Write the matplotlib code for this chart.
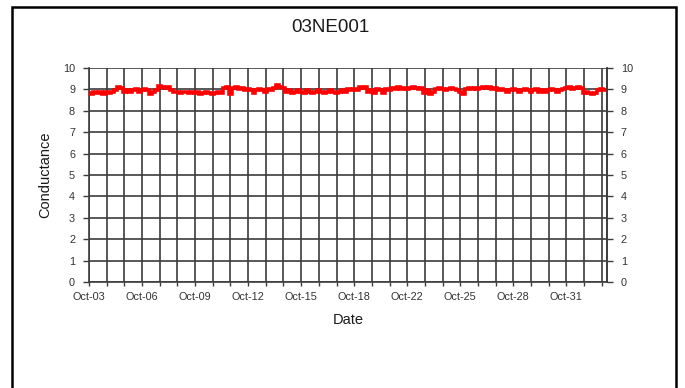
import numpy as np
import matplotlib
matplotlib.use('Agg')
import matplotlib.pyplot as plt
from matplotlib.patches import Rectangle

plt.rcParams['font.family'] = ['Liberation Sans', 'DejaVu Sans']

###############################################################################
# Data

title = '03NE001'
date_labels = ['Oct-03', 'Oct-06', 'Oct-09', 'Oct-12', 'Oct-15',
               'Oct-18', 'Oct-22', 'Oct-25', 'Oct-28', 'Oct-31']
label_every = 3          # one date label every third category
n_categories = 29.3      # category width of the plot area
points_per_category = 6

conductance = [
    8.85, 8.8, 8.9, 8.85, 8.9, 8.8,
    8.9, 8.85, 8.9, 8.95, 9.1, 9.05,
    8.9, 8.95, 8.9, 8.95, 9.0, 8.9,
    8.95, 9.0, 8.95, 8.8, 8.9, 8.95,
    9.15, 9.1, 9.05, 9.1, 8.95, 8.9,
    8.9, 8.85, 8.9, 8.9, 8.85, 8.9,
    8.85, 8.9, 8.8, 8.85, 8.9, 8.85,
    8.8, 8.85, 8.9, 8.85, 9.05, 9.1,
    8.8, 9.05, 9.1, 9.0, 9.05, 8.95,
    9.0, 8.95, 8.85, 8.95, 9.0, 8.95,
    8.9, 9.0, 8.95, 9.05, 9.2, 9.1,
    9.05, 8.9, 8.95, 8.85, 8.9, 8.95,
    8.9, 8.85, 8.95, 8.9, 8.85, 8.9,
    8.95, 8.9, 8.85, 8.9, 8.95, 8.9,
    8.85, 8.9, 8.95, 8.9, 9.0, 8.95,
    9.0, 8.95, 9.1, 9.05, 9.1, 8.9,
    8.95, 8.85, 9.0, 8.95, 8.85, 9.0,
    8.95, 9.05, 9.0, 9.1, 9.0, 9.05,
    9.0, 9.05, 9.1, 9.05, 9.0, 9.05,
    8.85, 8.95, 8.8, 8.9, 9.0, 9.05,
    9.0, 8.95, 9.0, 9.05, 9.0, 8.95,
    8.9, 8.8, 9.0, 9.05, 9.0, 9.05,
    9.0, 9.05, 9.1, 9.05, 9.1, 9.0,
    9.05, 8.95, 9.0, 8.95, 8.9, 8.95,
    9.0, 8.95, 8.9, 8.95, 9.0, 8.95,
    8.9, 8.95, 9.0, 8.9, 8.95, 8.9,
    8.95, 9.0, 8.95, 8.9, 8.95, 9.0,
    9.05, 9.1, 9.0, 9.05, 9.1, 9.05,
    8.85, 8.9, 8.85, 8.8, 8.85, 8.95,
    9.0, 8.95,
]

###############################################################################
# Plot

grid_col = '#3c3c3c'
text_col = '#333333'

fig = plt.figure(figsize=(6.85, 3.88), dpi=100)
ax = fig.add_axes([89 / 685, 1 - 282 / 388, 518 / 685, 214 / 388])

x = np.arange(len(conductance)) / points_per_category
ax.plot(x, conductance, color='red', lw=2.6, drawstyle='steps-mid',
        solid_joinstyle='miter', zorder=3)

ax.set_xlim(0, n_categories)
ax.set_ylim(0, 10)

n_grid = int(n_categories)
ax.set_xticks(np.arange(0, n_grid + 1))
ax.set_xticklabels([date_labels[i // label_every] if i % label_every == 0
                    and i // label_every < len(date_labels) else ''
                    for i in range(n_grid + 1)])
ax.set_yticks(np.arange(0, 11))
ax.grid(True, color=grid_col, lw=1.2)
ax.set_axisbelow(True)

ax.tick_params(axis='x', length=3, width=1, color=grid_col,
               labelsize=7.8, labelcolor=text_col, pad=4)
ax.tick_params(axis='y', length=4, width=1, color=grid_col,
               labelsize=7.8, labelcolor=text_col, pad=6)
for sp in ax.spines.values():
    sp.set_color(grid_col)
    sp.set_linewidth(1.2)
ax.spines['top'].set_visible(False)

# right-hand axis mirrors the left one
ax2 = ax.twinx()
ax2.set_ylim(ax.get_ylim())
ax2.set_yticks(np.arange(0, 11))
ax2.tick_params(axis='y', length=4, width=1, color=grid_col,
                labelsize=7.8, labelcolor=text_col, pad=6)
for sp in ax2.spines.values():
    sp.set_visible(False)
ax2.spines['right'].set_visible(True)
ax2.spines['right'].set_color(grid_col)
ax2.spines['right'].set_linewidth(1.2)

ax.set_xlabel('Date', fontsize=10.5, labelpad=8, color='#1a1a1a')
ax.set_ylabel('Conductance', fontsize=10.5, labelpad=8, color='#1a1a1a')
fig.text(330 / 685, 1 - 27 / 388, title, fontsize=13.5,
         ha='center', va='center', color='#1a1a1a')

# outer chart border
fig.patches.append(Rectangle((12 / 685, -0.02), 664 / 685, 1.02 - 7 / 388,
                             transform=fig.transFigure, fill=False,
                             edgecolor='black', lw=1.8))

fig.savefig('out.png', dpi=100)
